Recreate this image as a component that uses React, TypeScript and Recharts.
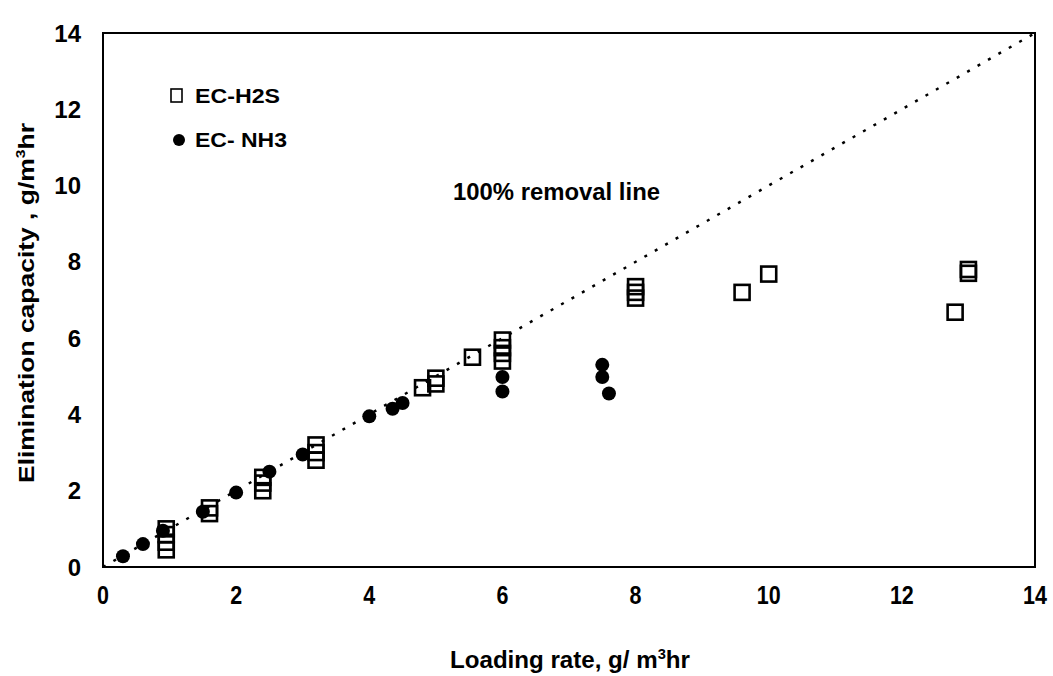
import { ScatterChart, Scatter, XAxis, YAxis, ReferenceLine, ReferenceArea, ReferenceDot, Label } from "recharts";

// Values (g/m3hr)
const H2S_X = [0.95, 0.95, 0.95, 0.95, 1.6, 1.6, 2.4, 2.4, 2.4, 3.2, 3.2, 3.2, 4.8, 5.0, 5.0, 5.55, 6.0, 6.0, 6.0, 6.0, 8.0, 8.0, 8.0, 9.6, 10.0, 12.8, 13.0, 13.0];
const H2S_Y = [0.45, 0.65, 0.85, 1.0, 1.4, 1.55, 2.0, 2.2, 2.35, 2.8, 3.0, 3.2, 4.7, 4.8, 4.95, 5.5, 5.4, 5.6, 5.75, 5.95, 7.05, 7.2, 7.35, 7.2, 7.68, 6.68, 7.7, 7.8];
const NH3_X = [0.3, 0.6, 0.9, 1.5, 2.0, 2.5, 3.0, 4.0, 4.35, 4.5, 6.0, 6.0, 7.5, 7.5, 7.6];
const NH3_Y = [0.28, 0.6, 0.95, 1.45, 1.95, 2.5, 2.95, 3.95, 4.15, 4.3, 4.98, 4.6, 5.3, 4.98, 4.55];
const TICKS = [0, 2, 4, 6, 8, 10, 12, 14];

const h2s = H2S_X.map((x, i) => ({ x, y: H2S_Y[i] }));
const nh3 = NH3_X.map((x, i) => ({ x, y: NH3_Y[i] }));

const FONT = "'Liberation Sans', Arial, sans-serif";

function OpenSquare(p: { cx?: number; cy?: number }) {
  return <rect x={(p.cx ?? 0) - 7.5} y={(p.cy ?? 0) - 7.5} width={15} height={15} fill="none" stroke="#000" strokeWidth={2.6} />;
}
function Dot(p: { cx?: number; cy?: number }) {
  return <circle cx={p.cx} cy={p.cy} r={7} fill="#000" />;
}

type TickProps = { x?: number; y?: number; payload?: { value?: number } };

// the scanned x labels are a little narrower than plain Arial
function XTick({ x = 0, y = 0, payload }: TickProps) {
  return (
    <text transform={`translate(${x} ${y}) scale(0.86 1)`} x={0} y={0} dy={19} textAnchor="middle"
      fontFamily={FONT} fontWeight={700} fontSize={25} fill="#000">
      {payload?.value}
    </text>
  );
}
function YTick({ x = 0, y = 0, payload }: TickProps) {
  return (
    <text x={x} y={y} dy={8.5} textAnchor="end" fontFamily={FONT} fontWeight={700} fontSize={24} fill="#000">
      {payload?.value}
    </text>
  );
}

function XTitle() {
  return (
    <text x={450} y={668} textLength={240} lengthAdjust="spacingAndGlyphs" fontFamily={FONT} fontWeight={700} fontSize={23} fill="#000">
      Loading rate, g/ m<tspan dy={-9} fontSize={14}>3</tspan><tspan dy={9}>hr</tspan>
    </text>
  );
}
function YTitle() {
  return (
    <text x={0} y={0} transform="translate(34 483) rotate(-90)" textLength={360} lengthAdjust="spacingAndGlyphs"
      fontFamily={FONT} fontWeight={700} fontSize={22} fill="#000">
      Elimination capacity , g/m<tspan dy={-9} fontSize={13}>3</tspan><tspan dy={9}>hr</tspan>
    </text>
  );
}

export default function App() {
  return (
    <div style={{ position: "absolute", left: 0, top: 0, width: 1053, height: 676, background: "#fff" }}>
      <ScatterChart width={1053} height={676} margin={{ top: 33, right: 18, bottom: 69, left: 23 }}>
        <XAxis type="number" dataKey="x" domain={[0, 14]} ticks={TICKS} tick={<XTick />} tickLine={false}
          axisLine={{ stroke: "#000", strokeWidth: 2 }} height={40} tickMargin={12}>
          <Label content={<XTitle />} />
        </XAxis>
        <YAxis type="number" dataKey="y" domain={[0, 14]} ticks={TICKS} tick={<YTick />} tickLine={false}
          axisLine={{ stroke: "#000", strokeWidth: 2 }} width={80} tickMargin={16}>
          <Label content={<YTitle />} />
        </YAxis>
        <ReferenceArea x1={0} x2={14} y1={0} y2={14} fill="none" stroke="#000" strokeWidth={2} />
        <ReferenceLine segment={[{ x: 0, y: 0 }, { x: 14, y: 14 }]} stroke="#000" strokeWidth={2.5} strokeDasharray="3 9" />
        <ReferenceDot x={6.95} y={9.75} r={0} fill="none" stroke="none" shape={() => (
          <text x={453} y={200} textLength={207} lengthAdjust="spacingAndGlyphs" fontFamily={FONT} fontWeight={700} fontSize={23} fill="#000">
            100% removal line
          </text>
        )} />
        <Scatter name="EC-H2S" data={h2s} shape={<OpenSquare />} isAnimationActive={false} />
        <Scatter name="EC- NH3" data={nh3} shape={<Dot />} isAnimationActive={false} />
        {/* legend drawn inside the plot frame */}
        <ReferenceDot x={1.13} y={12.65} r={0} fill="none" stroke="none" shape={() => (
          <g fontFamily={FONT} fontWeight={700} fontSize={20} fill="#000">
            <rect x={171} y={89} width={11} height={13} fill="none" stroke="#000" strokeWidth={1.6} />
            <text x={195} y={103} textLength={85} lengthAdjust="spacingAndGlyphs">EC-H2S</text>
            <circle cx={179} cy={140} r={6} fill="#000" />
            <text x={195} y={147} textLength={92} lengthAdjust="spacingAndGlyphs">EC- NH3</text>
          </g>
        )} />
      </ScatterChart>
    </div>
  );
}
